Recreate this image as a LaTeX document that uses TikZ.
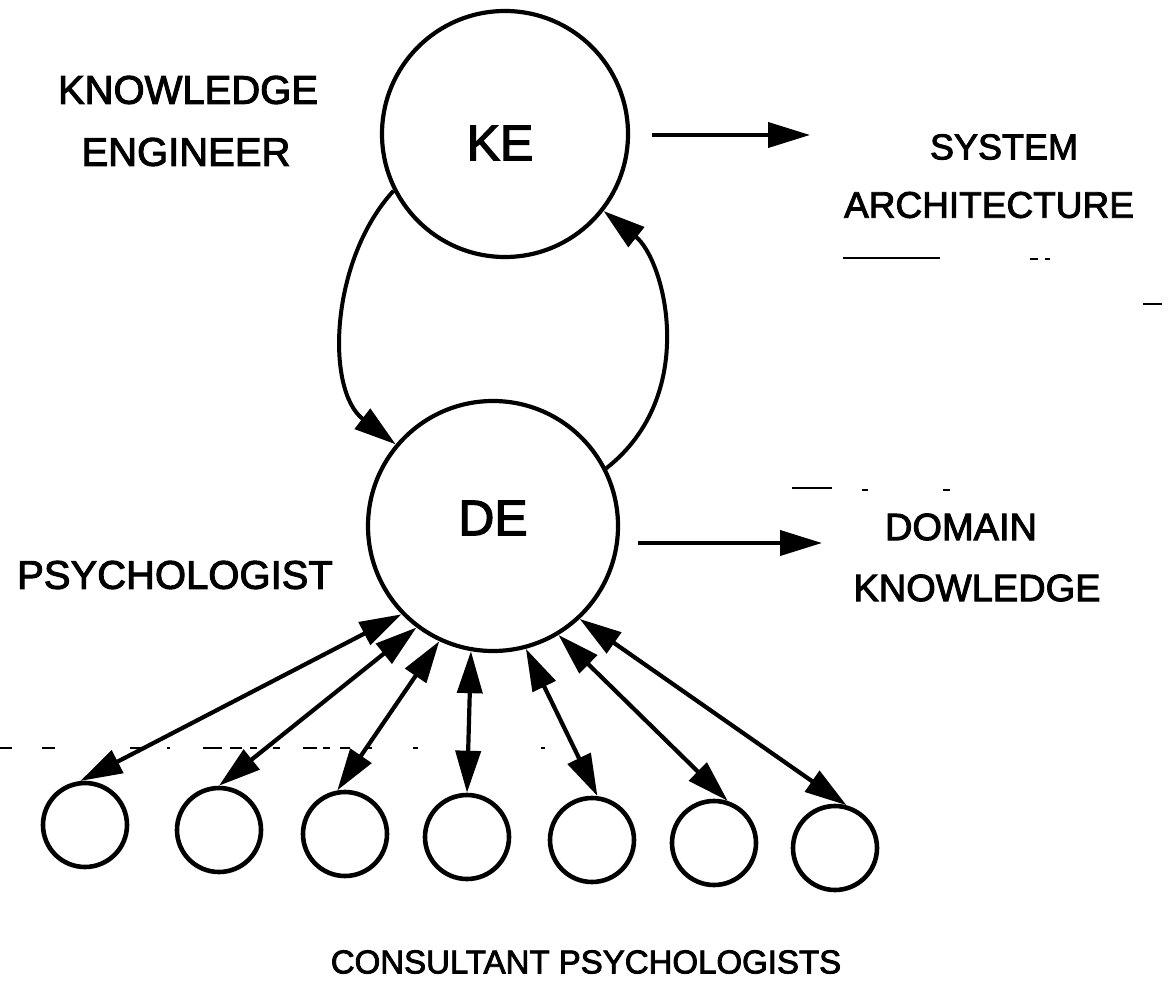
\documentclass[tikz,border=0pt]{standalone}
\usepackage{fontspec}
\setmainfont[FakeBold=2.5]{Liberation Sans}
\usetikzlibrary{arrows.meta}
\begin{document}
\begin{tikzpicture}[x=1pt,y=-1pt,
  bigc/.style={circle,draw,line width=4.2pt,inner sep=0pt},
  smallc/.style={circle,draw,line width=4.6pt,inner sep=0pt,minimum size=84pt},
  lbl/.style={inner sep=0pt,font=\fontsize{#1}{#1}\selectfont},
  tipa/.tip={Triangle[length=42pt,width=25pt]},
  conn/.style={line width=4pt,-tipa},
  both/.style={line width=4.2pt,tipa-tipa},
  scan/.style={line width=2.2pt}
]
\useasboundingbox[fill=white] (0,0) rectangle (1169,1000);

% main circles
\node[bigc,minimum size=246pt] (KE) at (505,134) {};
\node[lbl=50] (KEt) at (500,143) {KE};
\node[bigc,minimum size=250pt] (DE) at (493,526) {};
\node[lbl=50] (DEt) at (493,518) {DE};

% labels
\node[lbl=40] (kn1) at (188,90) {KNOWLEDGE};
\node[lbl=40] (en1) at (186,152) {ENGINEER};
\node[lbl=36] (sys) at (1004,147) {SYSTEM};
\node[lbl=37] (arc) at (989,205) {ARCHITECTURE};
\node[lbl=40] (psy) at (175,575) {PSYCHOLOGIST};
\node[lbl=38] (dom) at (961,527) {DOMAIN};
\node[lbl=38] (kn2) at (977,588) {KNOWLEDGE};
\node[lbl=33] (cons) at (586,962) {CONSULTANT PSYCHOLOGISTS};

% output arrows
\coordinate (saS) at (652,135);
\coordinate (saE) at (810,135);
\draw[conn] (saS) -- (saE);
\coordinate (dkS) at (638,543);
\coordinate (dkE) at (822,543);
\draw[conn] (dkS) -- (dkE);

% KE <-> DE arcs
\draw[conn] (KE.207) .. controls (330,260) and (325,390) .. (DE.140);
\draw[conn] (DE.27) .. controls (700,395) and (665,260) .. (KE.322);

% consultant circles
\node[smallc] (c1) at (85,825) {};
\node[smallc] (c2) at (219,830) {};
\node[smallc] (c3) at (345,834) {};
\node[smallc] (c4) at (467,837) {};
\node[smallc] (c5) at (592,840) {};
\node[smallc] (c6) at (714,843) {};
\node[smallc] (c7) at (835,848) {};

\draw[both] (DE.224) -- (c1.96);
\draw[both] (DE.233) -- (c2.north);
\draw[both] (DE.245) -- (c3.100);
\draw[both] (DE.260) -- (c4.north);
\draw[both] (DE.285) -- (c5.83);
\draw[both] (DE.301) -- (c6.72);
\draw[both] (DE.313) -- (c7.75);

% scan marks
\draw[scan] (843,258) -- (940,258);
\draw[scan] (1030,259) -- (1038,259);
\draw[scan] (1045,259) -- (1050,259);
\draw[scan] (1143,304) -- (1162,304);
\draw[scan] (792,488) -- (832,488);
\draw[scan] (862,490) -- (868,490);
\draw[scan] (943,490) -- (950,490);
\foreach \a/\b in {0/12,42/55,130/142,167/170,203/222,230/242,250/257,273/280,303/317,323/330,340/350,367/372,413/418,541/545}
  \draw[scan] (\a,748) -- (\b,748);
\end{tikzpicture}
\end{document}
